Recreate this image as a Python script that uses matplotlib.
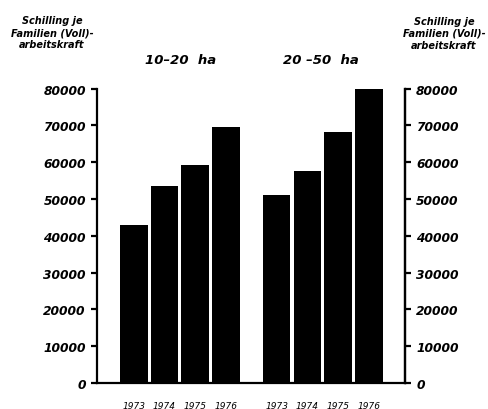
import matplotlib.pyplot as plt
import numpy as np

# data
years = ['1973', '1974', '1975', '1976']
small_farms = [43000, 53500, 59200, 69500]   # 10-20 ha
large_farms = [51100, 57500, 68100, 79900]   # 20-50 ha
group_titles = ['10\u201320  ha', '20 \u201350  ha']
yticks = [0, 10000, 20000, 30000, 40000, 50000, 60000, 70000, 80000]
ylabel = 'Schilling je\nFamilien (Voll)-\narbeitskraft'

lab_font = dict(family='DejaVu Sans', weight='bold', style='italic')

fig = plt.figure(figsize=(4.89, 4.10), dpi=100)
ax = fig.add_axes([97 / 489, 1 - 384 / 410, (405 - 97) / 489, (384 - 89.6) / 410])

x1 = np.arange(4)
x2 = x1 + 4.65
ax.bar(x1, small_farms, width=0.9, color='black')
ax.bar(x2, large_farms, width=0.9, color='black')

ax.set_xlim(-1.2, 8.83)
ax.set_ylim(0, 80000)
ax.set_xticks(np.concatenate([x1, x2]))
ax.set_xticklabels(years + years, fontsize=6.5, style='italic')
ax.tick_params(axis='x', length=0, pad=13)

ax.spines['top'].set_visible(False)
for s in ['left', 'right', 'bottom']:
    ax.spines[s].set_linewidth(1.6)

ax.set_yticks(yticks)
ax.set_yticklabels([str(v) for v in yticks], fontsize=8.8, **lab_font)
ax.tick_params(axis='y', direction='out', length=4, width=1.6, pad=4)

ax2 = ax.twinx()
ax2.set_ylim(0, 80000)
ax2.set_yticks(yticks)
ax2.set_yticklabels([str(v) for v in yticks], fontsize=8.8, **lab_font)
ax2.tick_params(axis='y', direction='out', length=4, width=1.6, pad=4)
for s in ['top', 'left', 'bottom']:
    ax2.spines[s].set_visible(False)
ax2.spines['right'].set_linewidth(1.6)

# group headings
fig.text(181 / 489, 1 - 60 / 410, group_titles[0], ha='center', va='center', fontsize=9.5, **lab_font)
fig.text(321 / 489, 1 - 60 / 410, group_titles[1], ha='center', va='center', fontsize=9.5, **lab_font)

# axis titles on both sides
fig.text(52 / 489, 1 - 33 / 410, ylabel, ha='center', va='center', fontsize=7,
         linespacing=1.3, **lab_font)
fig.text(444 / 489, 1 - 34 / 410, ylabel, ha='center', va='center', fontsize=7,
         linespacing=1.3, **lab_font)

plt.savefig('out.png', dpi=100)
